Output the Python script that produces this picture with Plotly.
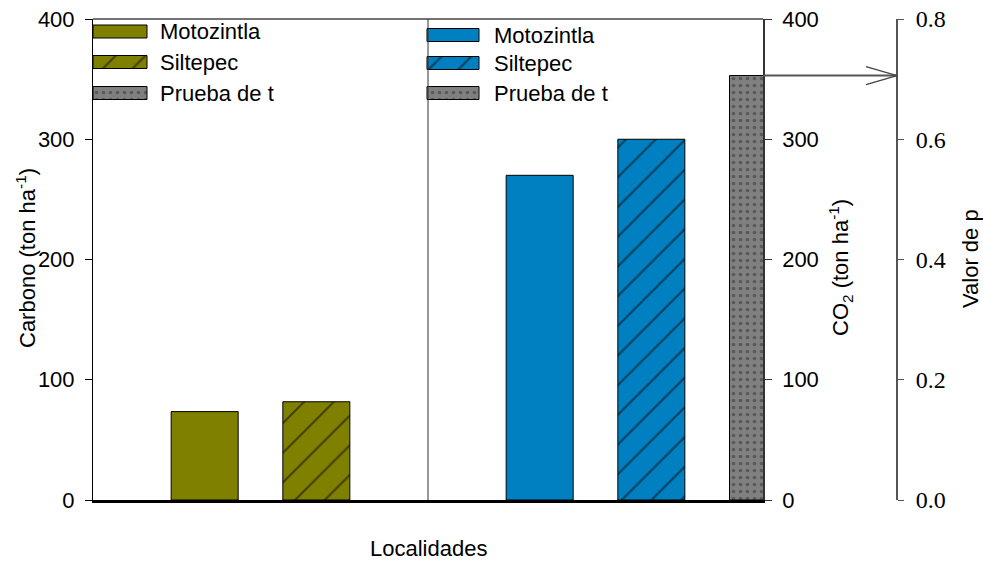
import plotly.graph_objects as go

# ---------------- data ----------------
localidades = ["Motozintla", "Siltepec"]
carbono = [73.5, 81.7]          # ton ha-1
co2 = [270, 300]                # ton ha-1
p_valor = [0.706]               # Prueba de t
x_carbono = [1, 2]
x_co2 = [4, 5]
x_p = [6]
leyenda = ["Motozintla", "Siltepec", "Prueba de t"]
ticks_c = [0, 100, 200, 300, 400]
ticks_p = [0.0, 0.2, 0.4, 0.6, 0.8]

# ---------------- style ----------------
OLIVE = "#808000"
BLUE = "#0080c0"
GRAY = "#808080"
SANS = "Liberation Sans, Arial, sans-serif"
SERIF = "Liberation Serif, Times New Roman, serif"
CLEAR = "rgba(0,0,0,0)"

W, H = 983, 561
L, R, T, B = 93, 86, 19, 61
PW = W - L - R
PH = H - T - B
XDOM = 670 / PW

hatch = dict(shape="/", size=21, solidity=0.1, fgcolor="black", fillmode="overlay")
dots = dict(shape=".", size=7, solidity=0.22, fgcolor="#333333", fillmode="overlay")
outline = dict(color="black", width=1)

fig = go.Figure()

# main bars
fig.add_trace(go.Bar(x=[x_carbono[0]], y=[carbono[0]], width=0.6, xaxis="x", yaxis="y",
                     marker=dict(color=OLIVE, line=outline), showlegend=False, name=localidades[0]))
fig.add_trace(go.Bar(x=[x_carbono[1]], y=[carbono[1]], width=0.6, xaxis="x", yaxis="y",
                     marker=dict(color=OLIVE, line=outline, pattern=dict(bgcolor=OLIVE, **hatch)),
                     showlegend=False, name=localidades[1]))
fig.add_trace(go.Bar(x=[x_co2[0]], y=[co2[0]], width=0.6, xaxis="x", yaxis="y2",
                     marker=dict(color=BLUE, line=outline), showlegend=False, name=localidades[0]))
fig.add_trace(go.Bar(x=[x_co2[1]], y=[co2[1]], width=0.6, xaxis="x", yaxis="y2",
                     marker=dict(color=BLUE, line=outline, pattern=dict(bgcolor=BLUE, **hatch)),
                     showlegend=False, name=localidades[1]))
fig.add_trace(go.Bar(x=x_p, y=p_valor, width=0.6, xaxis="x", yaxis="y3",
                     marker=dict(color=GRAY, line=outline, pattern=dict(bgcolor=GRAY, **dots)),
                     showlegend=False, name=leyenda[2]))

# legend swatches on a hidden pixel-scaled axis pair
leg_rows = {"left": (93, 147, 158, [31.5, 62, 93]), "right": (427, 479, 492, [35, 63, 93])}
leg_colors = {"left": OLIVE, "right": BLUE}
annotations = []
for side, (x0, x1, xt, rows) in leg_rows.items():
    col = leg_colors[side]
    markers = [
        dict(color=col, line=outline),
        dict(color=col, line=outline, pattern=dict(bgcolor=col, **hatch)),
        dict(color=GRAY, line=outline, pattern=dict(bgcolor=GRAY, **dots)),
    ]
    for lab, yy, mk in zip(leyenda, rows, markers):
        fig.add_trace(go.Bar(orientation="h", y=[yy], x=[x1 - x0], base=[x0], width=13,
                             xaxis="x4", yaxis="y4", marker=mk, showlegend=False,
                             hoverinfo="skip"))
        annotations.append(dict(x=xt, y=yy, xref="x4", yref="y4", text=lab, showarrow=False,
                                xanchor="left", yanchor="middle",
                                font=dict(family=SANS, size=22, color="black")))

# axis titles
title_font = dict(family=SANS, size=22, color="black")
annotations += [
    dict(x=XDOM / 2, y=(H - B - 548) / PH, xref="paper", yref="paper", text="Localidades",
         showarrow=False, xanchor="center", yanchor="middle", font=title_font),
    dict(x=(26 - L) / PW, y=(H - B - 258) / PH, xref="paper", yref="paper",
         text="Carbono (ton ha<sup>-1</sup>)", textangle=-90, showarrow=False,
         xanchor="center", yanchor="middle", font=title_font),
    dict(x=(840 - L) / PW, y=(H - B - 268) / PH, xref="paper", yref="paper",
         text="CO<sub>2</sub> (ton ha<sup>-1</sup>)", textangle=-90, showarrow=False,
         xanchor="center", yanchor="middle", font=title_font),
    dict(x=(970 - L) / PW, y=(H - B - 259) / PH, xref="paper", yref="paper",
         text="Valor de p", textangle=-90, showarrow=False,
         xanchor="center", yanchor="middle", font=title_font),
]

shapes = [
    # top border
    dict(type="line", xref="paper", yref="paper", x0=0, x1=XDOM, y0=1, y1=1,
         line=dict(color="#444444", width=1.5)),
    # divider between panels
    dict(type="line", xref="x", yref="paper", x0=3, x1=3, y0=0, y1=1,
         line=dict(color="#333333", width=1)),
    # arrow from p bar to p axis
    dict(type="line", xref="paper", yref="y3", x0=XDOM, x1=1, y0=p_valor[0], y1=p_valor[0],
         line=dict(color="#555555", width=2)),
    dict(type="line", xref="paper", yref="y3", ysizemode="pixel", yanchor=p_valor[0],
         x0=1 - 31 / PW, x1=1, y0=9, y1=0, line=dict(color="#444444", width=1.3)),
    dict(type="line", xref="paper", yref="y3", ysizemode="pixel", yanchor=p_valor[0],
         x0=1 - 31 / PW, x1=1, y0=-9, y1=0, line=dict(color="#444444", width=1.3)),
]

tickfont = dict(family=SANS, size=22, color="black")
fig.update_layout(
    template="none",
    width=W, height=H,
    margin=dict(l=L, r=R, t=T, b=B, pad=0, autoexpand=False),
    paper_bgcolor="white", plot_bgcolor=CLEAR,
    barmode="overlay",
    showlegend=False,
    xaxis=dict(domain=[0, XDOM], range=[0, 6], anchor="y", showline=True, linecolor="black",
               linewidth=3, showticklabels=False, ticks="", showgrid=False, zeroline=False,
               automargin=False),
    yaxis=dict(range=[0, 400], tickvals=ticks_c, ticks="outside", ticklen=7, tickcolor="black",
               showline=True, linecolor="black", linewidth=1, showgrid=False, zeroline=False,
               tickfont=tickfont, ticklabelstandoff=6, automargin=False),
    yaxis2=dict(range=[0, 400], tickvals=ticks_c, overlaying="y", side="right", anchor="x",
                ticks="outside", ticklen=7, tickcolor="#333333", showline=True,
                linecolor="#333333", linewidth=1.5, showgrid=False, zeroline=False,
                tickfont=tickfont, ticklabelstandoff=6, automargin=False),
    yaxis3=dict(range=[0, 0.8], tickvals=ticks_p, tickformat=".1f", overlaying="y", side="right",
                anchor="free", position=1, ticks="outside", ticklen=6, tickcolor="#555555",
                showline=True, linecolor="#555555", linewidth=2, showgrid=False, zeroline=False,
                tickfont=dict(family=SERIF, size=24, color="black"), ticklabelstandoff=7,
                automargin=False),
    xaxis4=dict(domain=[0, 1], range=[L, W - R], anchor="y4", visible=False, fixedrange=True,
                automargin=False),
    yaxis4=dict(domain=[0, 1], range=[H - B, T], anchor="x4", visible=False, fixedrange=True,
                automargin=False),
    annotations=annotations,
    shapes=shapes,
)

fig.write_html("out.html")
